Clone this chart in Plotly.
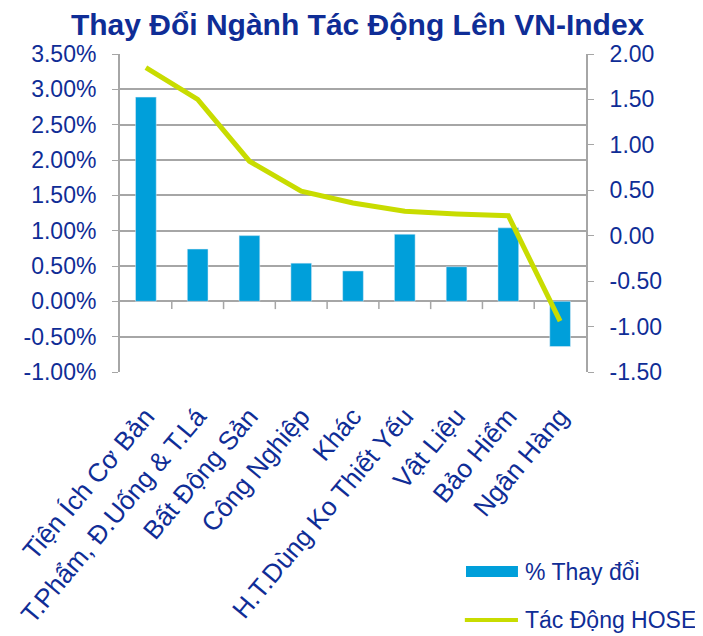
import plotly.graph_objects as go

categories = ["Tiện Ích Cơ Bản", "T.Phẩm, Đ.Uống & T.Lá", "Bất Động Sản", "Công Nghiệp",
              "Khác", "H.T.Dùng Ko Thiết Yếu", "Vật Liệu", "Bảo Hiểm", "Ngân Hàng"]
pct_change = [0.0289, 0.0074, 0.0093, 0.0054, 0.0043, 0.0095, 0.0049, 0.0104, -0.0064]
impact_hose = [1.85, 1.50, 0.82, 0.49, 0.36, 0.27, 0.24, 0.22, -0.94]

y1_ticks = [-0.01, -0.005, 0, 0.005, 0.01, 0.015, 0.02, 0.025, 0.03, 0.035]
y1_labels = ["-1.00%", "-0.50%", "0.00%", "0.50%", "1.00%", "1.50%", "2.00%", "2.50%", "3.00%", "3.50%"]
y2_ticks = [-1.5, -1.0, -0.5, 0, 0.5, 1.0, 1.5, 2.0]
y2_labels = ["-1.50", "-1.00", "-0.50", "0.00", "0.50", "1.00", "1.50", "2.00"]

TXT = "#0f2d96"
GRID = "#a6a6a6"
BAR = "#009fda"
LINE = "#c8dc00"
FONT = "Liberation Sans, Arial, sans-serif"

x_idx = list(range(len(categories)))

fig = go.Figure()
fig.add_trace(go.Bar(x=x_idx, y=pct_change, name="% Thay đổi", marker_color=BAR,
                     width=0.4, yaxis="y", showlegend=False))
fig.add_trace(go.Scatter(x=x_idx, y=impact_hose, name="Tác Động HOSE", mode="lines",
                         line=dict(color=LINE, width=5), yaxis="y2", showlegend=False))

shapes = []
for i in range(len(categories) - 1):
    shapes.append(dict(type="line", xref="x", yref="y", x0=i + 0.5, x1=i + 0.5,
                       y0=0, y1=-0.0011, line=dict(color=GRID, width=1.5)))
# manual legend
shapes.append(dict(type="rect", xref="paper", yref="paper", x0=0.7425, x1=0.854,
                   y0=-0.6447, y1=-0.610, fillcolor=BAR, line=dict(width=0)))
shapes.append(dict(type="line", xref="paper", yref="paper", x0=0.74, x1=0.854,
                   y0=-0.780, y1=-0.780, line=dict(color=LINE, width=4)))

annotations = [
    dict(text="% Thay đổi", xref="paper", yref="paper", x=0.865, y=-0.629,
         xanchor="left", yanchor="middle", showarrow=False, font=dict(size=23, color=TXT)),
    dict(text="Tác Động HOSE", xref="paper", yref="paper", x=0.865, y=-0.780,
         xanchor="left", yanchor="middle", showarrow=False, font=dict(size=23, color=TXT)),
]

fig.update_layout(
    width=695, height=628,
    margin=dict(l=112, r=117, t=46, b=264, autoexpand=False),
    paper_bgcolor="white", plot_bgcolor="white",
    font=dict(family=FONT, size=23, color=TXT),
    title=dict(text="<b>Thay Đổi Ngành Tác Động Lên VN-Index</b>", x=0.503, xanchor="center",
               y=0.973, yanchor="middle", font=dict(size=30, color=TXT)),
    bargap=0.6,
    xaxis=dict(range=[-0.5, len(categories) - 0.5], tickvals=x_idx, ticktext=categories,
               tickangle=-50, showgrid=False, zeroline=False, showline=False, ticks="",
               automargin=False, ticklabelstandoff=23, tickfont=dict(size=26, color=TXT)),
    yaxis=dict(range=[-0.01, 0.035], tickvals=y1_ticks, ticktext=y1_labels,
               showgrid=True, gridcolor=GRID, gridwidth=1.5, zeroline=False, automargin=False,
               showline=True, linecolor=GRID, linewidth=2, ticks="outside", ticklen=6,
               tickcolor=GRID, ticklabelstandoff=11, tickfont=dict(size=23, color=TXT)),
    yaxis2=dict(range=[-1.5, 2.0], tickvals=y2_ticks, ticktext=y2_labels, overlaying="y",
                side="right", showgrid=False, zeroline=False, showline=True, linecolor=GRID,
                automargin=False, linewidth=2, ticks="outside", ticklen=6, tickcolor=GRID,
                ticklabelstandoff=11, tickfont=dict(size=23, color=TXT)),
    shapes=shapes, annotations=annotations,
)

fig.write_html("out.html")
